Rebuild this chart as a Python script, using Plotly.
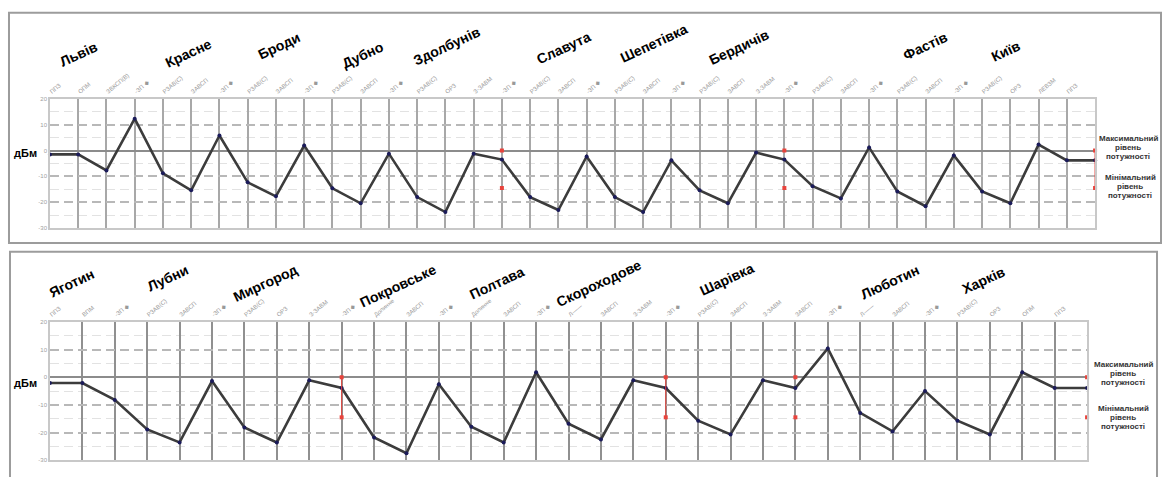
import plotly.graph_objects as go

W, H = 1167, 477

# ---------------- data ----------------
top_ticks = ["ППЗ", "ОПМ", "ЗВКСП(В)", "-ЗП ◆", "РЗАВ(С)", "ЗАВСП", "-ЗП ◆", "РЗАВ(С)", "ЗАВСП",
             "-ЗП ◆", "РЗАВ(С)", "ЗАВСП", "-ЗП ◆", "РЗАВ(С)", "ОРЗ", "З-ЗАВМ", "-ЗП ◆", "РЗАВ(С)",
             "ЗАВСП", "-ЗП ◆", "РЗАВ(С)", "ЗАВСП", "-ЗП ◆", "РЗАВ(С)", "ЗАВСП", "З-ЗАВМ", "-ЗП ◆",
             "РЗАВ(С)", "ЗАВСП", "-ЗП ◆", "РЗАВ(С)", "ЗАВСП", "-ЗП ◆", "РЗАВ(С)", "ОРЗ", "ЛЕВЗМ",
             "ППЗ", ""]
top_values = [-1.5, -1.5, -7.7, 12.3, -8.8, -15.4, 5.8, -12.3, -17.7, 1.9, -14.6, -20.4, -1.2,
              -18.0, -23.8, -1.2, -3.5, -18.0, -23.0, -2.3, -18.0, -23.8, -3.8, -15.4, -20.4, -0.8,
              -3.5, -13.8, -18.5, 1.2, -15.8, -21.5, -1.9, -15.8, -20.4, 2.3, -3.8, -3.8]

bottom_ticks = ["ППЗ", "ВПМ", "-ЗП ◆", "РЗАВ(С)", "ЗАВСП", "-ЗП ◆", "РЗАВ(С)", "ОРЗ", "З-ЗАВМ",
                "-ЗП ◆", "Долинне", "ЗАВСП", "-ЗП ◆", "Долинне", "ЗАВСП", "-ЗП ◆", "Л——", "ЗАВСП",
                "З-ЗАВМ", "-ЗП ◆", "РЗАВ(С)", "ЗАВСП", "З-ЗАВМ", "ЗАВСП", "-ЗП ◆", "Л——", "ЗАВСП",
                "-ЗП ◆", "РЗАВ(С)", "ОРЗ", "ОПМ", "ППЗ", ""]
bottom_values = [-2.1, -2.1, -8.2, -18.9, -23.6, -1.4, -18.2, -23.6, -1.1, -3.9, -21.8, -27.5,
                 -2.5, -17.9, -23.6, 1.8, -16.8, -22.5, -1.1, -3.9, -15.7, -20.7, -1.1, -3.9,
                 10.4, -12.9, -19.6, -5.0, -15.7, -20.7, 1.8, -3.9, -3.9]

MAX_LEVEL = 0
MIN_LEVEL = -14.5
top_check_idx = [16, 26, 37]
top_check_line = [False, False, True]
bottom_check_idx = [9, 19, 23, 32]
bottom_check_line = [True, True, False, False]

top_stations = ["Львів", "Красне", "Броди", "Дубно", "Здолбунів", "Славута", "Шепетівка",
                "Бердичів", "Фастів", "Київ"]
bottom_stations = ["Яготин", "Лубни", "Миргород", "Покровське", "Полтава", "Скороходове",
                   "Шарівка", "Люботин", "Харків"]

y_ticks = [20, 10, 0, -10, -20, -30]

max_note = ["Максимальний", "рівень", "потужності"]
min_note = ["Мінімальний", "рівень", "потужності"]

# ---------------- layout helpers (pixel -> paper) ----------------
def px(x):
    return x / W

def py(y):
    return 1 - y / H

top_station_pos = [(78, 52), (188, 51), (278, 44), (362, 53), (446, 44), (563, 46), (654, 41),
                   (739, 45), (925, 44), (1006, 49)]
bottom_station_pos = [(71, 284), (167, 278), (265, 284), (397, 287), (496, 284), (599, 284),
                      (727, 280), (890, 283), (984, 281)]

fig = go.Figure()

LINE_COL = "#3c3c3c"
MARK_COL = "#1b1b5a"
RED = "#e8433c"

def add_panel(values, xa, ya):
    fig.add_trace(go.Scatter(
        x=list(range(len(values))), y=values, xaxis=xa, yaxis=ya, mode="lines+markers",
        line=dict(color=LINE_COL, width=2.6), marker=dict(color=MARK_COL, size=4),
        cliponaxis=False, showlegend=False, hoverinfo="skip"))

def add_checks(idx_list, line_flags, xa, ya):
    for i, fl in zip(idx_list, line_flags):
        fig.add_trace(go.Scatter(
            x=[i, i], y=[MAX_LEVEL, MIN_LEVEL], xaxis=xa, yaxis=ya,
            mode="lines+markers" if fl else "markers",
            line=dict(color=RED, width=1),
            marker=dict(color=RED, size=4, symbol="square"),
            cliponaxis=False, showlegend=False, hoverinfo="skip"))

add_panel(top_values, "x", "y")
add_checks(top_check_idx, top_check_line, "x", "y")
add_panel(bottom_values, "x2", "y2")
add_checks(bottom_check_idx, bottom_check_line, "x2", "y2")

def xaxis_cfg(ticks, dom, grid_col, grid_w, anchor):
    return dict(domain=dom, range=[0, len(ticks) - 1], side="top", anchor=anchor,
                tickmode="array", tickvals=list(range(len(ticks))), ticktext=ticks,
                tickangle=-40, tickfont=dict(size=6, color="#999999", family="Liberation Sans"),
                showgrid=True, gridcolor=grid_col, gridwidth=grid_w,
                showline=True, mirror=True, linecolor="#c8c8c8", linewidth=1.5,
                zeroline=False, ticks="", fixedrange=True)

def yaxis_cfg(dom, anchor):
    return dict(domain=dom, range=[-30, 20], anchor=anchor,
                tickmode="array", tickvals=y_ticks, ticktext=[str(v) for v in y_ticks],
                tickfont=dict(size=6, color="#a0a0a0", family="Liberation Sans"),
                showgrid=True, gridcolor="#b8b8b8", gridwidth=2, griddash="9px,5px",
                minor=dict(tickvals=[15, 5, -5, -15, -25], showgrid=True,
                           gridcolor="#e2e2e2", gridwidth=1),
                zeroline=True, zerolinecolor="#8c8c8c", zerolinewidth=1.6,
                showline=True, mirror=True, linecolor="#c8c8c8", linewidth=1.5,
                ticks="", fixedrange=True)

fig.update_layout(
    width=W, height=H, margin=dict(l=0, r=0, t=0, b=0),
    paper_bgcolor="white", plot_bgcolor="white",
    xaxis=xaxis_cfg(top_ticks, [px(49), px(1095)], "#a8a8a8", 2, "y"),
    yaxis=yaxis_cfg([py(228), py(97)], "x"),
    xaxis2=xaxis_cfg(bottom_ticks, [px(49), px(1087)], "#909090", 2.4, "y2"),
    yaxis2=yaxis_cfg([py(463), py(323)], "x2"),
)

shapes = [
    dict(type="rect", xref="paper", yref="paper", x0=px(8), x1=px(1161), y0=py(243), y1=py(10),
         line=dict(color="#9c9c9c", width=2)),
    dict(type="rect", xref="paper", yref="paper", x0=px(9), x1=px(1157), y0=py(485), y1=py(252),
         line=dict(color="#9c9c9c", width=2)),
]
fig.update_layout(shapes=shapes)

def label(text, cx, cy, size, color="black", angle=0):
    return dict(text=text, x=px(cx), y=py(cy), xref="paper", yref="paper", showarrow=False,
                textangle=angle, xanchor="center", yanchor="middle",
                font=dict(size=size, color=color, family="Liberation Sans"))

ann = []
for name, (cx, cy) in zip(top_stations + bottom_stations, top_station_pos + bottom_station_pos):
    ann.append(label("<b>" + name + "</b>", cx, cy, 14, angle=-25))

for cy in (152, 385):
    ann.append(label("<b>дБм</b>", 25, cy, 11))

side_notes = [(max_note, 1128, 137), (min_note, 1130, 177),
              (max_note, 1123, 366), (min_note, 1123, 411)]
for lines, cx, cy0 in side_notes:
    for k, t in enumerate(lines):
        ann.append(label("<b>" + t + "</b>", cx, cy0 + k * 9, 8, color="#333333"))

fig.update_layout(annotations=ann)

fig.write_html("out.html", config={"displayModeBar": False},
               post_script="document.body.style.margin='0';")
